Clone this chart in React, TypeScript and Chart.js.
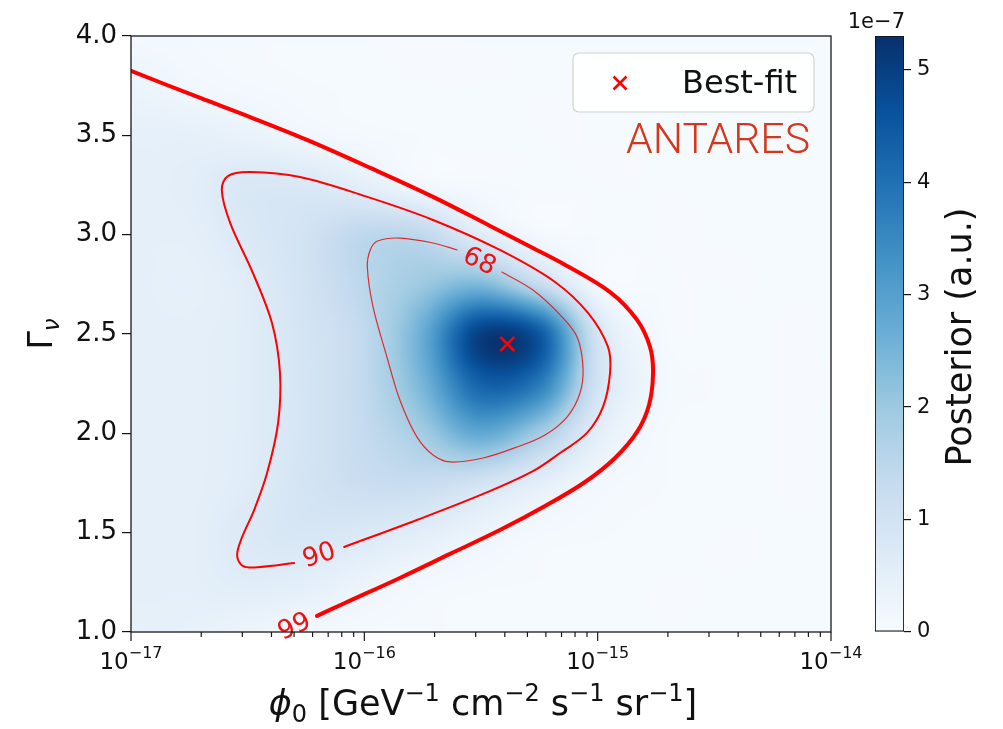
import React, { useEffect, useRef } from "react";
import { Chart, registerables } from "chart.js";

Chart.register(...registerables);

const FONT = '"DejaVu Sans", "Liberation Sans", sans-serif';
const RED = "#ff0000";

// Posterior map grid: flux normalisation φ0 [GeV⁻¹ cm⁻² s⁻¹ sr⁻¹] and spectral index Γν
const PHI_GRID = [1.0e-17, 1.78e-17, 3.16e-17, 5.62e-17, 1.0e-16, 1.78e-16, 3.16e-16, 5.62e-16, 1.0e-15, 1.78e-15, 3.16e-15, 5.62e-15, 1.0e-14];
const GAMMA_GRID = [4.0, 3.75, 3.5, 3.25, 3.0, 2.75, 2.5, 2.25, 2.0, 1.75, 1.5, 1.25, 1.0];

// Posterior density (×1e-7), one row per GAMMA_GRID value, one column per PHI_GRID value
const POSTERIOR = [
  [0.13, 0.10, 0.07, 0.05, 0.04, 0.04, 0.04, 0.04, 0.04, 0.04, 0.04, 0.04, 0.04],
  [0.30, 0.18, 0.11, 0.07, 0.05, 0.04, 0.04, 0.04, 0.04, 0.04, 0.04, 0.04, 0.04],
  [0.45, 0.45, 0.36, 0.19, 0.10, 0.06, 0.05, 0.04, 0.04, 0.04, 0.04, 0.04, 0.04],
  [0.50, 0.55, 0.78, 0.76, 0.50, 0.16, 0.08, 0.05, 0.04, 0.04, 0.04, 0.04, 0.04],
  [0.50, 0.50, 0.75, 1.00, 1.45, 1.40, 0.60, 0.12, 0.06, 0.04, 0.04, 0.04, 0.04],
  [0.50, 0.45, 0.62, 1.00, 1.50, 2.00, 2.40, 1.30, 0.14, 0.05, 0.04, 0.04, 0.04],
  [0.50, 0.50, 0.60, 0.95, 1.40, 2.70, 5.00, 4.50, 0.95, 0.12, 0.05, 0.04, 0.04],
  [0.50, 0.50, 0.60, 0.93, 1.40, 2.50, 4.30, 3.80, 1.00, 0.18, 0.06, 0.04, 0.04],
  [0.50, 0.50, 0.60, 0.92, 1.33, 1.90, 2.80, 1.90, 0.55, 0.10, 0.05, 0.04, 0.04],
  [0.50, 0.50, 0.62, 0.95, 1.20, 1.25, 1.00, 0.53, 0.16, 0.07, 0.05, 0.04, 0.04],
  [0.50, 0.50, 0.72, 0.85, 0.75, 0.56, 0.30, 0.12, 0.07, 0.05, 0.04, 0.04, 0.04],
  [0.50, 0.50, 0.60, 0.53, 0.32, 0.14, 0.08, 0.06, 0.05, 0.04, 0.04, 0.04, 0.04],
  [0.45, 0.42, 0.30, 0.16, 0.10, 0.07, 0.05, 0.04, 0.04, 0.04, 0.04, 0.04, 0.04],
];
const POSTERIOR_MAX = 5.3;

// Credible-region contours, labelled by enclosed probability (%)
const CONTOUR_LEVELS = ["68", "90", "99"];

const C68_PHI = [3.89e-16, 5.28e-16, 6.90e-16, 8.16e-16, 8.65e-16, 8.40e-16, 7.39e-16, 5.95e-16, 4.51e-16, 3.23e-16, 2.33e-16, 1.97e-16, 1.68e-16, 1.42e-16, 1.25e-16, 1.09e-16, 1.03e-16, 1.06e-16, 1.14e-16, 1.42e-16, 1.97e-16, 2.50e-16];
const C68_GAMMA = [2.812, 2.721, 2.596, 2.485, 2.334, 2.203, 2.082, 1.992, 1.931, 1.876, 1.856, 1.891, 1.982, 2.168, 2.384, 2.636, 2.837, 2.923, 2.968, 2.983, 2.958, 2.923];

const C90_PHI = [8.19e-17, 1.68e-16, 3.23e-16, 5.28e-16, 6.90e-16, 9.00e-16, 1.054e-15, 1.13e-15, 1.107e-15, 9.09e-16, 6.56e-16, 3.81e-16, 1.97e-16, 1.03e-16, 5.30e-17, 3.24e-17, 2.60e-17, 2.45e-17, 2.66e-17, 3.33e-17, 4.02e-17, 4.35e-17, 4.27e-17, 3.83e-17, 3.37e-17, 2.96e-17, 2.85e-17, 3.02e-17, 3.57e-17, 5.00e-17];
const C90_GAMMA = [1.428, 1.564, 1.695, 1.810, 1.901, 2.002, 2.133, 2.304, 2.435, 2.606, 2.762, 2.923, 3.074, 3.190, 3.290, 3.315, 3.295, 3.225, 3.059, 2.807, 2.555, 2.304, 2.052, 1.800, 1.614, 1.463, 1.383, 1.332, 1.327, 1.347];

const C99_PHI = [6.27e-17, 8.26e-17, 1.42e-16, 2.33e-16, 3.81e-16, 5.95e-16, 8.83e-16, 1.187e-15, 1.475e-15, 1.66e-15, 1.727e-15, 1.676e-15, 1.475e-15, 1.13e-15, 6.90e-16, 5.28e-16, 3.46e-16, 1.97e-16, 1.06e-16, 5.68e-17, 3.24e-17, 1.98e-17, 1.0e-17];
const C99_GAMMA = [1.081, 1.146, 1.272, 1.393, 1.513, 1.634, 1.755, 1.876, 2.007, 2.143, 2.304, 2.435, 2.571, 2.711, 2.862, 2.933, 3.044, 3.190, 3.336, 3.477, 3.592, 3.688, 3.824];

const BEST_FIT_PHI = 4.1e-16;
const BEST_FIT_GAMMA = 2.45;

// Axis ticks
const X_TICK_EXPONENTS = [-17, -16, -15, -14];
const X_MINOR_MANTISSAS = [2, 3, 4, 5, 6, 7, 8, 9];
const Y_MIN = 1.0;
const Y_MAX = 4.0;
const Y_TICK_STEP = 0.5;
const CBAR_TICK_STEP = 1;
const CBAR_OFFSET_TEXT = "1e\u22127";

// matplotlib "Blues" colormap anchors
const BLUES = ["#f7fbff", "#deebf7", "#c6dbef", "#9ecae1", "#6baed6", "#4292c6", "#2171b5", "#08519c", "#08306b"];
const BLUES_RGB = BLUES.map((h) => [parseInt(h.slice(1, 3), 16), parseInt(h.slice(3, 5), 16), parseInt(h.slice(5, 7), 16)]);

function blues(t: number, out: number[]) {
  const c = Math.max(0, Math.min(1, t)) * (BLUES_RGB.length - 1);
  const i = Math.min(BLUES_RGB.length - 2, Math.floor(c));
  const f = c - i;
  const a = BLUES_RGB[i];
  const b = BLUES_RGB[i + 1];
  out[0] = a[0] + (b[0] - a[0]) * f;
  out[1] = a[1] + (b[1] - a[1]) * f;
  out[2] = a[2] + (b[2] - a[2]) * f;
}

// Catmull-Rom kernel used to render the posterior table smoothly (like imshow's bicubic)
function cr(p0: number, p1: number, p2: number, p3: number, t: number) {
  return 0.5 * (2 * p1 + (p2 - p0) * t + (2 * p0 - 5 * p1 + 4 * p2 - p3) * t * t + (3 * p1 - p0 - 3 * p2 + p3) * t * t * t);
}

function sampleGrid(u: number, v: number) {
  const nx = PHI_GRID.length;
  const ny = GAMMA_GRID.length;
  const cu = Math.max(0, Math.min(nx - 1, u));
  const cv = Math.max(0, Math.min(ny - 1, v));
  const iu = Math.min(nx - 2, Math.floor(cu));
  const iv = Math.min(ny - 2, Math.floor(cv));
  const tu = cu - iu;
  const tv = cv - iv;
  const col = (k: number) => Math.max(0, Math.min(nx - 1, k));
  const row = (k: number) => Math.max(0, Math.min(ny - 1, k));
  const r = [0, 0, 0, 0];
  for (let k = 0; k < 4; k++) {
    const R = POSTERIOR[row(iv - 1 + k)];
    r[k] = cr(R[col(iu - 1)], R[iu], R[iu + 1], R[col(iu + 2)], tu);
  }
  return cr(r[0], r[1], r[2], r[3], tv);
}

type Part = { t: string; size: number; dy?: number; italic?: boolean };

function richWidth(ctx: CanvasRenderingContext2D, parts: Part[]) {
  let w = 0;
  for (const p of parts) {
    ctx.font = `${p.italic ? "oblique " : ""}${p.size}px ${FONT}`;
    w += ctx.measureText(p.t).width;
  }
  return w;
}

function drawRich(ctx: CanvasRenderingContext2D, parts: Part[], x: number, y: number) {
  let cx = x - richWidth(ctx, parts) / 2;
  ctx.textAlign = "left";
  ctx.textBaseline = "alphabetic";
  for (const p of parts) {
    ctx.font = `${p.italic ? "oblique " : ""}${p.size}px ${FONT}`;
    ctx.fillText(p.t, cx, y + (p.dy || 0));
    cx += ctx.measureText(p.t).width;
  }
}

const toPoints = (xs: number[], ys: number[]) => xs.map((x, i) => ({ x, y: ys[i] }));

// Posterior heat map painted under the contours
const heatPlugin = {
  id: "posteriorHeat",
  beforeDatasetsDraw(chart: any) {
    const { ctx, chartArea: a, scales } = chart;
    const xs = scales.x;
    const ys = scales.y;
    const w = Math.round(a.right - a.left);
    const h = Math.round(a.bottom - a.top);
    const off = document.createElement("canvas");
    off.width = w;
    off.height = h;
    const octx = off.getContext("2d")!;
    const img = octx.createImageData(w, h);
    const nx = PHI_GRID.length;
    const ny = GAMMA_GRID.length;
    const gx0 = xs.getPixelForValue(PHI_GRID[0]);
    const gx1 = xs.getPixelForValue(PHI_GRID[nx - 1]);
    const gy0 = ys.getPixelForValue(GAMMA_GRID[0]);
    const gy1 = ys.getPixelForValue(GAMMA_GRID[ny - 1]);
    const rgb = [0, 0, 0];
    for (let j = 0; j < h; j++) {
      const v = ((a.top + j + 0.5 - gy0) / (gy1 - gy0)) * (ny - 1);
      for (let i = 0; i < w; i++) {
        const u = ((a.left + i + 0.5 - gx0) / (gx1 - gx0)) * (nx - 1);
        const val = Math.max(0, sampleGrid(u, v));
        blues(val / POSTERIOR_MAX, rgb);
        const k = (j * w + i) * 4;
        img.data[k] = rgb[0];
        img.data[k + 1] = rgb[1];
        img.data[k + 2] = rgb[2];
        img.data[k + 3] = 255;
      }
    }
    octx.putImageData(img, 0, 0);
    ctx.drawImage(off, a.left, a.top);
  },
};

// Inline contour labels placed in the gaps of each contour line
const contourLabelPlugin = {
  id: "contourLabels",
  afterDatasetsDraw(chart: any) {
    const { ctx, scales } = chart;
    const px = (phi: number) => scales.x.getPixelForValue(phi);
    const py = (g: number) => scales.y.getPixelForValue(g);
    const labels: { text: string; x: number; y: number; angle: number }[] = [];
    const gap = (text: string, phis: number[], gammas: number[]) => {
      const n = phis.length - 1;
      const ax = px(phis[n]), ay = py(gammas[n]);
      const bx = px(phis[0]), by = py(gammas[0]);
      labels.push({ text, x: (ax + bx) / 2, y: (ay + by) / 2, angle: Math.atan2(by - ay, bx - ax) });
    };
    gap(CONTOUR_LEVELS[0], C68_PHI, C68_GAMMA);
    gap(CONTOUR_LEVELS[1], C90_PHI, C90_GAMMA);
    {
      const ax = px(C99_PHI[0]), ay = py(C99_GAMMA[0]);
      const bx = px(C99_PHI[1]), by = py(C99_GAMMA[1]);
      const ang = Math.atan2(by - ay, bx - ax);
      labels.push({ text: CONTOUR_LEVELS[2], x: ax - Math.cos(ang) * 25, y: ay - Math.sin(ang) * 25, angle: ang });
    }
    ctx.save();
    ctx.fillStyle = "#ee1111";
    ctx.font = `26px ${FONT}`;
    ctx.textAlign = "center";
    ctx.textBaseline = "middle";
    for (const l of labels) {
      ctx.save();
      ctx.translate(l.x, l.y);
      ctx.rotate(l.angle);
      ctx.fillText(l.text, 0, 1);
      ctx.restore();
    }
    ctx.restore();
  },
};

// Frame, log-axis ticks, axis titles, legend and experiment tag
const decorPlugin = {
  id: "decor",
  afterDraw(chart: any) {
    const { ctx, chartArea: a, scales } = chart;
    const xs = scales.x;
    ctx.save();
    ctx.strokeStyle = "#1a1a1a";
    ctx.lineWidth = 1.3;
    ctx.strokeRect(a.left, a.top, a.right - a.left, a.bottom - a.top);

    // x ticks
    ctx.lineWidth = 1.2;
    ctx.beginPath();
    X_TICK_EXPONENTS.forEach((e, idx) => {
      const x = xs.getPixelForValue(Math.pow(10, e));
      ctx.moveTo(x, a.bottom);
      ctx.lineTo(x, a.bottom + 9);
      if (idx < X_TICK_EXPONENTS.length - 1) {
        for (const m of X_MINOR_MANTISSAS) {
          const xm = xs.getPixelForValue(m * Math.pow(10, e));
          ctx.moveTo(xm, a.bottom);
          ctx.lineTo(xm, a.bottom + 5);
        }
      }
    });
    ctx.stroke();

    ctx.fillStyle = "#111";
    for (const e of X_TICK_EXPONENTS) {
      const x = xs.getPixelForValue(Math.pow(10, e));
      drawRich(ctx, [
        { t: "10", size: 23 },
        { t: "\u2212" + Math.abs(e), size: 16, dy: -11 },
      ], x, a.bottom + 37);
    }

    // x title
    drawRich(ctx, [
      { t: "\u03d5", size: 35, italic: true },
      { t: "0", size: 24, dy: 7 },
      { t: " [GeV", size: 35 },
      { t: "\u22121", size: 24, dy: -14 },
      { t: " cm", size: 35 },
      { t: "\u22122", size: 24, dy: -14 },
      { t: " s", size: 35 },
      { t: "\u22121", size: 24, dy: -14 },
      { t: " sr", size: 35 },
      { t: "\u22121", size: 24, dy: -14 },
      { t: "]", size: 35 },
    ], (a.left + a.right) / 2 + 2, a.bottom + 83);

    // y title
    ctx.save();
    ctx.translate(52, (a.top + a.bottom) / 2);
    ctx.rotate(-Math.PI / 2);
    drawRich(ctx, [
      { t: "\u0393", size: 33 },
      { t: "\u03bd", size: 23, dy: 7, italic: true },
    ], 0, 0);
    ctx.restore();

    // legend
    const bw = 241, bh = 59;
    const bx = a.right - 17 - bw, by = a.top + 17;
    ctx.beginPath();
    if ((ctx as any).roundRect) (ctx as any).roundRect(bx, by, bw, bh, 6);
    else ctx.rect(bx, by, bw, bh);
    ctx.fillStyle = "rgba(255,255,255,0.85)";
    ctx.fill();
    ctx.strokeStyle = "#d2d2d2";
    ctx.lineWidth = 1.2;
    ctx.stroke();
    const mx = bx + 47, my = by + 30;
    ctx.strokeStyle = RED;
    ctx.lineWidth = 2.6;
    ctx.beginPath();
    ctx.moveTo(mx - 6.5, my - 6.5);
    ctx.lineTo(mx + 6.5, my + 6.5);
    ctx.moveTo(mx - 6.5, my + 6.5);
    ctx.lineTo(mx + 6.5, my - 6.5);
    ctx.stroke();
    ctx.fillStyle = "#111";
    ctx.font = `32px ${FONT}`;
    ctx.textAlign = "left";
    ctx.textBaseline = "alphabetic";
    ctx.fillText("Best-fit", bx + 109, by + 40);

    // experiment tag
    ctx.font = `300 42px Roboto, "Liberation Sans", sans-serif`;
    const tw = ctx.measureText("ANTARES").width;
    ctx.save();
    ctx.translate(bx + bw - 4 - 184, by + 100);
    ctx.scale(184 / tw, 1);
    ctx.fillStyle = "#d3381c";
    ctx.fillText("ANTARES", 0, 0);
    ctx.restore();
    ctx.restore();
  },
};

const cbarTextPlugin = {
  id: "cbarText",
  afterDraw(chart: any) {
    const { ctx, chartArea: a } = chart;
    ctx.save();
    ctx.fillStyle = "#111";
    ctx.font = `21px ${FONT}`;
    ctx.textAlign = "right";
    ctx.textBaseline = "alphabetic";
    ctx.fillText(CBAR_OFFSET_TEXT, a.right + 1, a.top - 8);
    ctx.translate(a.right + 67, (a.top + a.bottom) / 2 + 3);
    ctx.rotate(-Math.PI / 2);
    ctx.font = `35px ${FONT}`;
    ctx.textAlign = "center";
    ctx.fillText("Posterior (a.u.)", 0, 0);
    ctx.restore();
  },
};

export default function App() {
  const mainRef = useRef<HTMLCanvasElement>(null);
  const cbarRef = useRef<HTMLCanvasElement>(null);

  useEffect(() => {
    const line = (data: any[], width: number, color: string) => ({
      data,
      showLine: true,
      borderColor: color,
      borderWidth: width,
      pointRadius: 0,
      tension: 0.35,
      borderJoinStyle: "round",
      borderCapStyle: "round",
      clip: 0,
    });

    const main = new Chart(mainRef.current!, {
      type: "scatter",
      data: {
        datasets: [
          line(toPoints(C68_PHI, C68_GAMMA), 1.2, "rgba(225,25,25,0.9)"),
          line(toPoints(C90_PHI, C90_GAMMA), 2, RED),
          line(toPoints(C99_PHI, C99_GAMMA), 4, RED),
          {
            data: [{ x: BEST_FIT_PHI, y: BEST_FIT_GAMMA }],
            pointStyle: "crossRot",
            pointRadius: 10,
            borderColor: RED,
            borderWidth: 2.6,
            showLine: false,
          },
        ] as any,
      },
      options: {
        responsive: false,
        animation: false,
        devicePixelRatio: 1,
        events: [],
        layout: { padding: { left: 0, top: 36, right: 172, bottom: 0 } },
        plugins: { legend: { display: false }, tooltip: { enabled: false } },
        scales: {
          x: {
            type: "logarithmic",
            min: Math.pow(10, X_TICK_EXPONENTS[0]),
            max: Math.pow(10, X_TICK_EXPONENTS[X_TICK_EXPONENTS.length - 1]),
            ticks: { display: false },
            grid: { display: false },
            border: { display: false },
            afterFit: (s: any) => {
              s.height = 97;
            },
          },
          y: {
            type: "linear",
            min: Y_MIN,
            max: Y_MAX,
            ticks: {
              stepSize: Y_TICK_STEP,
              callback: (v: any) => Number(v).toFixed(1),
              font: { family: FONT, size: 26 },
              color: "#111",
              padding: 5,
            },
            grid: { drawOnChartArea: false, drawTicks: true, tickLength: 9, color: "#111", lineWidth: 1.2 },
            border: { display: false },
            afterFit: (s: any) => {
              s.width = 131;
            },
          },
        },
      } as any,
      plugins: [heatPlugin, contourLabelPlugin, decorPlugin],
    });

    const cbar = new Chart(cbarRef.current!, {
      type: "bar",
      data: {
        labels: [""],
        datasets: [
          {
            data: [[0, POSTERIOR_MAX]],
            backgroundColor: (c: any) => {
              const area = c.chart.chartArea;
              if (!area) return BLUES[0];
              const g = c.chart.ctx.createLinearGradient(0, area.bottom, 0, area.top);
              BLUES.forEach((col, i) => g.addColorStop(i / (BLUES.length - 1), col));
              return g;
            },
            borderColor: "#111",
            borderWidth: 1.2,
            borderSkipped: false,
            barPercentage: 1,
            categoryPercentage: 1,
          },
        ] as any,
      },
      options: {
        responsive: false,
        animation: false,
        devicePixelRatio: 1,
        events: [],
        layout: { padding: { left: 40, top: 36, right: 0, bottom: 97 } },
        plugins: { legend: { display: false }, tooltip: { enabled: false } },
        scales: {
          x: { display: false },
          y: {
            position: "right",
            min: 0,
            max: POSTERIOR_MAX,
            ticks: {
              stepSize: CBAR_TICK_STEP,
              includeBounds: false,
              font: { family: FONT, size: 21 },
              color: "#111",
              padding: 6,
            },
            grid: { drawOnChartArea: false, drawTicks: true, tickLength: 7, color: "#111", lineWidth: 1.2 },
            border: { display: false },
            afterFit: (s: any) => {
              s.width = 99;
            },
          },
        },
      } as any,
      plugins: [cbarTextPlugin],
    });

    return () => {
      main.destroy();
      cbar.destroy();
    };
  }, []);

  return (
    <div style={{ position: "fixed", left: 0, top: 0, width: 1003, height: 729, background: "#fff" }}>
      <canvas ref={mainRef} width={1003} height={729} style={{ position: "absolute", left: 0, top: 0, width: 1003, height: 729 }} />
      <canvas ref={cbarRef} width={168} height={729} style={{ position: "absolute", left: 835, top: 0, width: 168, height: 729 }} />
    </div>
  );
}
